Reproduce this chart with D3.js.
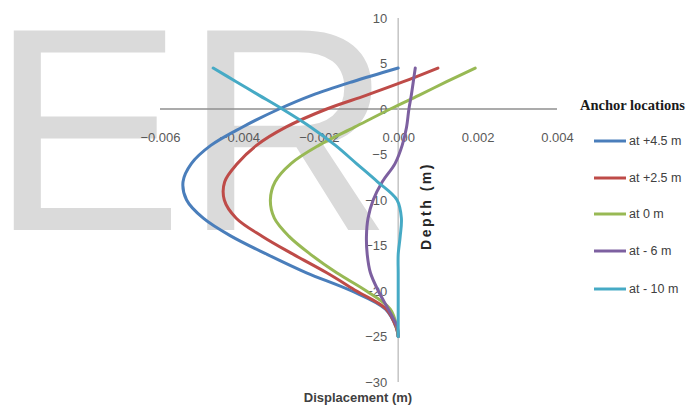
<!DOCTYPE html>
<html>
<head>
<meta charset="utf-8">
<script src="https://cdn.jsdelivr.net/npm/d3@7"></script>
<style>
  html, body { margin: 0; padding: 0; background: #fff; }
  svg { display: block; }
</style>
</head>
<body>
<svg id="chart" width="698" height="411"></svg>
<script>
// ---- data (displacement in m, depth in m) ----
const depths = [4.5, 3, 1.5, 0, -2, -4, -6, -8, -10, -12, -14, -16, -18, -20, -22, -24, -25];
const seriesNames = ["at +4.5 m", "at +2.5 m", "at 0 m", "at - 6 m", "at - 10 m"];
const dispAt45  = [0, -0.00115, -0.00218, -0.0030, -0.00393, -0.00472, -0.00521, -0.00542, -0.00533, -0.00491, -0.00420, -0.00329, -0.00231, -0.00117, -0.00032, -0.00005, 0];
const dispAt25  = [0.0010, 0.00013, -0.00081, -0.0018, -0.00283, -0.00357, -0.00405, -0.00437, -0.00438, -0.00408, -0.00342, -0.00263, -0.00180, -0.00105, -0.00030, -0.00005, 0];
const dispAt0   = [0.00194, 0.00122, 0.00052, -0.0002, -0.0011, -0.0020, -0.0027, -0.0031, -0.00322, -0.00312, -0.00275, -0.0022, -0.00155, -0.0008, -0.0002, -0.00003, 0];
const dispAtM6  = [0.00043, 0.00038, 0.00033, 0.00027, 0.00021, 0.00010, -0.00008, -0.00040, -0.00063, -0.00076, -0.00080, -0.00078, -0.00070, -0.00050, -0.00025, -0.00002, 0];
const dispAtM10 = [-0.00466, -0.00408, -0.0035, -0.00292, -0.0022, -0.00158, -0.00105, -0.00052, -0.00003, 0.00008, 0.00005, 0, 0, 0, 0, 0, 0];
const xTicks = [-0.006, -0.004, -0.002, 0, 0.002, 0.004];
const yTicks = [10, 5, 0, -5, -10, -15, -20, -25, -30];
const colors = ["#4A7EBB", "#BE4B48", "#98B954", "#7D60A0", "#46AAC5"];

const allSeries = [dispAt45, dispAt25, dispAt0, dispAtM6, dispAtM10].map((vals, i) => ({
  name: seriesNames[i],
  color: colors[i],
  points: vals.map((v, j) => ({ v: v, depth: depths[j] }))
}));

const svg = d3.select("#chart");
svg.append("rect").attr("width", 698).attr("height", 411).attr("fill", "#fff");

// watermark
svg.append("text")
  .attr("x", -10).attr("y", 230)
  .attr("font-family", "Liberation Sans, Arial, sans-serif")
  .attr("font-size", 290)
  .attr("fill", "#dadada")
  .text("ER");

const x = d3.scaleLinear().domain([-0.006, 0.004]).range([160, 557]);
const y = d3.scaleLinear().domain([-30, 10]).range([382, 18]);

// axis lines
svg.append("line")
  .attr("x1", x(-0.006)).attr("x2", x(0.004))
  .attr("y1", y(0)).attr("y2", y(0))
  .attr("stroke", "#8f8f8f").attr("stroke-width", 1.5);
svg.append("line")
  .attr("x1", x(0)).attr("x2", x(0))
  .attr("y1", y(10)).attr("y2", y(-30))
  .attr("stroke", "#c4c4c4").attr("stroke-width", 1.5);

// x axis labels
const xAxis = svg.append("g")
  .attr("transform", `translate(0,${y(0)})`)
  .call(d3.axisBottom(x).tickValues(xTicks).tickSize(0).tickPadding(24).tickFormat(d3.format(".3f")));
xAxis.select(".domain").remove();
xAxis.selectAll("text")
  .attr("font-family", "Liberation Sans, Arial, sans-serif")
  .attr("font-size", 13).attr("fill", "#595959");

// y axis labels
const yAxis = svg.append("g")
  .attr("transform", `translate(${x(0)},0)`)
  .call(d3.axisLeft(y).tickValues(yTicks).tickSize(0).tickPadding(11).tickFormat(d3.format("d")));
yAxis.select(".domain").remove();
yAxis.selectAll("text")
  .attr("font-family", "Liberation Sans, Arial, sans-serif")
  .attr("font-size", 13).attr("fill", "#595959");

// curves
const line = d3.line()
  .x(d => x(d.v))
  .y(d => y(d.depth))
  .curve(d3.curveCatmullRom.alpha(0.5));

svg.append("g").selectAll("path")
  .data(allSeries)
  .join("path")
  .attr("d", d => line(d.points))
  .attr("fill", "none")
  .attr("stroke", d => d.color)
  .attr("stroke-width", 3)
  .attr("stroke-linejoin", "round")
  .attr("stroke-linecap", "round");

// axis titles
svg.append("text")
  .attr("x", 358).attr("y", 402)
  .attr("text-anchor", "middle")
  .attr("font-family", "Liberation Sans, Arial, sans-serif")
  .attr("font-size", 13).attr("font-weight", "bold")
  .attr("fill", "#404040")
  .text("Displacement (m)");

svg.append("text")
  .attr("transform", "translate(431,206) rotate(-90)")
  .attr("text-anchor", "middle")
  .attr("font-family", "Liberation Sans, Arial, sans-serif")
  .attr("font-size", 14).attr("font-weight", "bold")
  .attr("letter-spacing", 2.5)
  .attr("fill", "#262626")
  .text("Depth (m)");

// legend
svg.append("text")
  .attr("x", 580).attr("y", 110)
  .attr("font-family", "Liberation Serif, Times New Roman, serif")
  .attr("font-size", 14.5).attr("font-weight", "bold")
  .attr("fill", "#1a1a1a")
  .text("Anchor locations");

const legendRows = [141, 178, 214, 251, 289];
const lg = svg.append("g").selectAll("g")
  .data(allSeries)
  .join("g")
  .attr("transform", (d, i) => `translate(0,${legendRows[i]})`);
lg.append("line")
  .attr("x1", 594).attr("x2", 626)
  .attr("stroke", d => d.color).attr("stroke-width", 3);
lg.append("text")
  .attr("x", 629).attr("dy", "0.35em")
  .attr("font-family", "Liberation Sans, Arial, sans-serif")
  .attr("font-size", 12.5).attr("fill", "#404040")
  .text(d => d.name);
</script>
</body>
</html>
